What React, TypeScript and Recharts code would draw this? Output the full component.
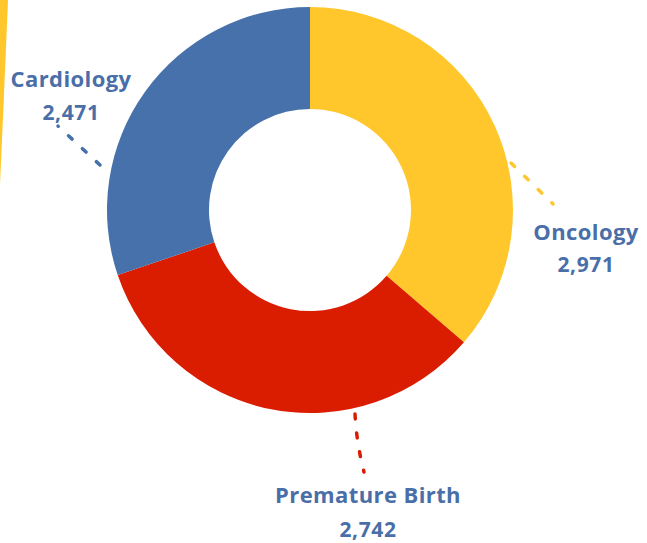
import React from "react";
import { PieChart, Pie, Cell, Customized } from "recharts";

const categories = ["Oncology", "Premature Birth", "Cardiology"];
const values = [2971, 2742, 2471];
const colors = ["#FFC72C", "#DA1C00", "#4771AB"];

const data = categories.map((name, i) => ({ name, value: values[i] }));

const LABEL_COLOR = "#4A6FA8";
const FONT = "'Open Sans', Lato, sans-serif";

// label layout relative to pie center (dx, dy)
const layout = [
  { line: [[201, -47], [243, -6]], tx: 276, ny: 30, vy: 62 },
  { line: [[45, 204], [54, 262]], tx: 58, ny: 293, vy: 327 },
  { line: [[-210, -45], [-252, -84]], tx: -239, ny: -123, vy: -90 },
];

const renderLabel = (props: any) => {
  const { cx, cy, index, name, value } = props;
  const l = layout[index];
  const [[x1, y1], [x2, y2]] = l.line;
  const mx = (x1 + x2) / 2 + (index === 1 ? -3 : 0);
  const my = (y1 + y2) / 2;
  return (
    <g key={`lbl-${index}`}>
      <path
        d={`M${cx + x1},${cy + y1} Q${cx + mx},${cy + my} ${cx + x2},${cy + y2}`}
        fill="none"
        stroke={colors[index]}
        strokeWidth={3.5}
        strokeLinecap="round"
        strokeDasharray="5 14"
      />
      <text
        x={cx + l.tx}
        y={cy + l.ny}
        textAnchor="middle"
        fill={LABEL_COLOR}
        fontFamily={FONT}
        fontWeight={700}
        fontSize={22}
        letterSpacing={0.4}
      >
        {name}
      </text>
      <text
        x={cx + l.tx}
        y={cy + l.vy}
        textAnchor="middle"
        fill={LABEL_COLOR}
        fontFamily={FONT}
        fontWeight={700}
        fontSize={21}
        letterSpacing={0.6}
      >
        {Number(value).toLocaleString("en-US")}
      </text>
    </g>
  );
};

const Decoration = () => (
  <path d="M0,0 L8,0 Q4,95 0,185 Z" fill="#FFC72C" />
);

export default function App() {
  return (
    <div style={{ position: "absolute", left: 0, top: 0, width: 647, height: 543, background: "#fff" }}>
      <PieChart width={647} height={543} margin={{ top: 0, right: 0, bottom: 0, left: 0 }}>
        <Customized component={Decoration} />
        <Pie
          data={data}
          dataKey="value"
          nameKey="name"
          cx={310}
          cy={210}
          innerRadius={101}
          outerRadius={203}
          startAngle={90}
          endAngle={-270}
          stroke="none"
          isAnimationActive={false}
          label={renderLabel}
          labelLine={false}
        >
          {data.map((d, i) => (
            <Cell key={d.name} fill={colors[i]} />
          ))}
        </Pie>
      </PieChart>
    </div>
  );
}
